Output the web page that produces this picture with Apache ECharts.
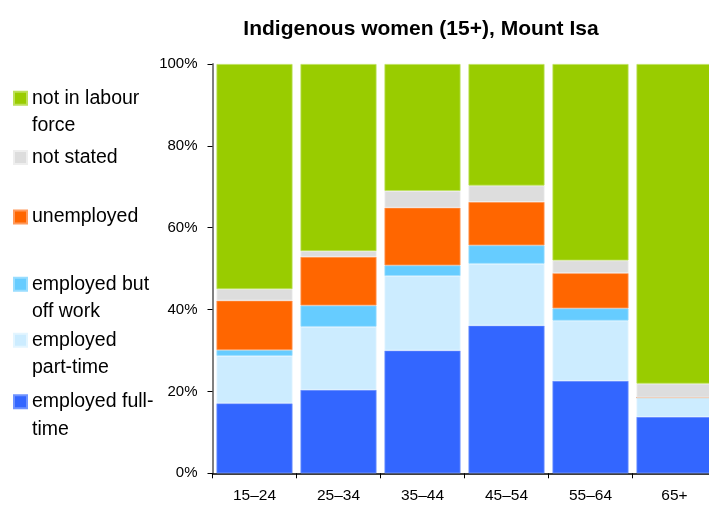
<!DOCTYPE html>
<html>
<head>
<meta charset="utf-8">
<script src="https://cdn.jsdelivr.net/npm/echarts@6/dist/echarts.min.js"></script>
<style>html,body{margin:0;padding:0;background:#fff;}#c{width:709px;height:506px;}</style>
</head>
<body>
<div id="c"></div>
<script>
var categories = ['15–24', '25–34', '35–44', '45–54', '55–64', '65+'];
var employedFullTime = [17.1, 20.4, 30.0, 36.1, 22.6, 13.8];
var employedPartTime = [11.6, 15.4, 18.2, 15.1, 14.7, 4.7];
var employedOffWork = [1.4, 5.2, 2.6, 4.5, 3.0, 0];
var unemployed = [12.1, 11.9, 14.1, 10.6, 8.6, 0];
var notStated = [2.8, 1.4, 4.1, 4.0, 3.1, 3.4];
var notInLabourForce = [55.0, 45.7, 31.0, 29.7, 48.0, 78.1];
var yTicks = [0, 20, 40, 60, 80, 100];

var seriesDefs = [
  {name: 'employed full-time', data: employedFullTime, color: '#3366FF', border: '#6f93ff', label: 'employed full-\ntime'},
  {name: 'employed part-time', data: employedPartTime, color: '#CCECFF', border: '#e3f5ff', label: 'employed\npart-time'},
  {name: 'employed but off work', data: employedOffWork, color: '#66CCFF', border: '#99ddff', label: 'employed but\noff work'},
  {name: 'unemployed', data: unemployed, color: '#FF6600', border: '#ff9a5c', label: 'unemployed'},
  {name: 'not stated', data: notStated, color: '#DDDDDD', border: '#eeeeee', label: 'not stated'},
  {name: 'not in labour force', data: notInLabourForce, color: '#99CC00', border: '#bde05a', label: 'not in labour\nforce'}
];

var labelMap = {};
seriesDefs.forEach(function (s) { labelMap[s.name] = s.label; });

var legendTops = {
  'not in labour force': 57,
  'not stated': 147.5,
  'unemployed': 207,
  'employed but off work': 243,
  'employed part-time': 299,
  'employed full-time': 360.5
};

var legends = seriesDefs.map(function (s) {
  var twoLine = s.label.indexOf('\n') >= 0;
  return {
    data: [s.name],
    left: 13,
    top: legendTops[s.name],
    orient: 'vertical',
    padding: 0,
    icon: 'rect',
    itemWidth: 13,
    itemHeight: 13,
    formatter: function (n) { var t = labelMap[n]; return t.indexOf('\n') >= 0 ? ' \n' + t : t; },
    textStyle: twoLine ? {
      fontFamily: 'Liberation Sans, Arial, sans-serif', fontSize: 19.5, color: '#000', lineHeight: 27.5
    } : {
      fontFamily: 'Liberation Sans, Arial, sans-serif', fontSize: 19.5, color: '#000'
    }
  };
});

var chart = echarts.init(document.getElementById('c'), null, {renderer: 'canvas'});
chart.setOption({
  animation: false,
  backgroundColor: '#fff',
  title: {
    text: 'Indigenous women (15+), Mount Isa',
    left: 416, top: 14, textAlign: 'center',
    textStyle: {fontFamily: 'Liberation Sans, Arial, sans-serif', fontSize: 21, fontWeight: 'bold', color: '#000'}
  },
  legend: legends,
  grid: {left: 212.5, top: 64, width: 504, height: 409.3, containLabel: false, outerBoundsMode: 'none'},
  xAxis: {
    type: 'category',
    data: categories,
    boundaryGap: true,
    axisLine: {lineStyle: {color: '#000', width: 1.5}},
    axisTick: {show: true, length: 5, lineStyle: {color: '#000'}},
    axisLabel: {margin: 14, fontFamily: 'Liberation Sans, Arial, sans-serif', fontSize: 15.5, color: '#000'}
  },
  yAxis: {
    type: 'value',
    min: 0, max: 100, interval: 20,
    axisLine: {show: true, lineStyle: {color: '#808080', width: 2}},
    axisTick: {show: true, length: 5, lineStyle: {color: '#000'}},
    splitLine: {show: false},
    axisLabel: {
      margin: 15, fontFamily: 'Liberation Sans, Arial, sans-serif', fontSize: 15, color: '#000',
      formatter: function (v) { return yTicks.indexOf(v) >= 0 ? v + '%' : ''; }
    }
  },
  series: seriesDefs.map(function (s) {
    return {
      name: s.name,
      type: 'bar',
      stack: 'total',
      data: s.data,
      barCategoryGap: '9.5%',
      itemStyle: {color: s.color, borderColor: s.border, borderWidth: 0.8},
      emphasis: {disabled: true}
    };
  })
});
</script>
</body>
</html>
